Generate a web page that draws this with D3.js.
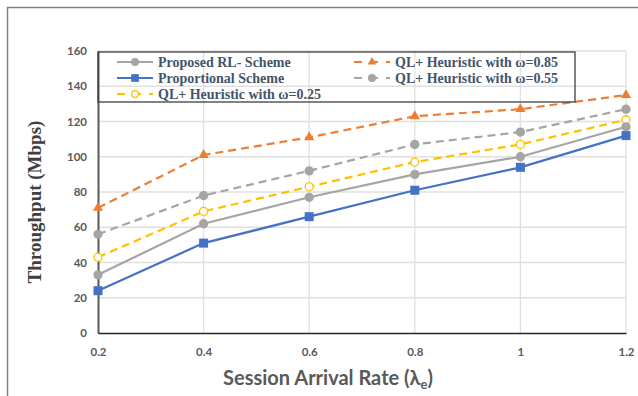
<!DOCTYPE html>
<html><head><meta charset="utf-8">
<script src="https://cdn.jsdelivr.net/npm/d3@7"></script>
<style>body{margin:0;background:#fff}svg{display:block}</style>
</head><body>
<script>
const xValues = [0.2, 0.4, 0.6, 0.8, 1.0, 1.2];
const proposedRL = [33, 62, 77, 90, 100, 117];
const proportional = [24, 51, 66, 81, 94, 112];
const ql025 = [43, 69, 83, 97, 107, 121];
const ql085 = [71, 101, 111, 123, 127, 135];
const ql055 = [56, 78, 92, 107, 114, 127];
const yTicks = [0, 20, 40, 60, 80, 100, 120, 140, 160];
const xTickLabels = ["0.2", "0.4", "0.6", "0.8", "1", "1.2"];

const series = [
  {name: "Proposed RL- Scheme", values: proposedRL, color: "#a5a5a5", dash: null, marker: "circle", fill: "#a5a5a5"},
  {name: "Proportional Scheme", values: proportional, color: "#4472c4", dash: null, marker: "square", fill: "#4472c4"},
  {name: "QL+ Heuristic with ω=0.25", values: ql025, color: "#ffc000", dash: "8,5", marker: "circle", fill: "#fff"},
  {name: "QL+ Heuristic with ω=0.85", values: ql085, color: "#ed7d31", dash: "8,5", marker: "triangle", fill: "#ed7d31"},
  {name: "QL+ Heuristic with ω=0.55", values: ql055, color: "#a5a5a5", dash: "8,5", marker: "circle", fill: "#a5a5a5"}
];

const W = 638, H = 396;
const svg = d3.select("body").append("svg").attr("width", W).attr("height", H);

// outer frame
svg.append("rect").attr("x", 7.5).attr("y", 7.5).attr("width", 640).attr("height", 400)
  .attr("fill", "none").attr("stroke", "#808080").attr("stroke-width", 1.5);

const x = d3.scaleLinear().domain([0.2, 1.2]).range([98, 626]);
const y = d3.scaleLinear().domain([0, 160]).range([333, 51]);

// gridlines
svg.append("g").selectAll("line").data(yTicks.slice(1)).join("line")
  .attr("x1", 98).attr("x2", 626).attr("y1", d => y(d)).attr("y2", d => y(d))
  .attr("stroke", "#e0e0e0").attr("stroke-width", 1.3);
svg.append("g").selectAll("line").data(xValues.slice(1)).join("line")
  .attr("x1", d => x(d)).attr("x2", d => x(d)).attr("y1", 51).attr("y2", 333)
  .attr("stroke", "#e0e0e0").attr("stroke-width", 1.3);

// axes
const yAxis = svg.append("g").attr("transform", "translate(98,0)")
  .call(d3.axisLeft(y).tickValues(yTicks).tickSize(0).tickPadding(11));
yAxis.select(".domain").attr("stroke", "#595959").attr("stroke-width", 2);
yAxis.selectAll("text").attr("font-family", "Lato, 'Open Sans', sans-serif").attr("font-weight", "bold")
  .attr("font-size", 11.5).attr("fill", "#595959");

const xAxis = svg.append("g").attr("transform", "translate(0,333)")
  .call(d3.axisBottom(x).tickValues(xValues).tickFormat((d, i) => xTickLabels[i]).tickSize(0).tickPadding(15));
xAxis.select(".domain").attr("stroke", "#262626").attr("stroke-width", 1.5);
xAxis.selectAll("text").attr("font-family", "Lato, 'Open Sans', sans-serif").attr("font-weight", "bold")
  .attr("font-size", 11.5).attr("fill", "#595959");

// lines
const line = d3.line().x((d, i) => x(xValues[i])).y(d => y(d));
const order = [3, 4, 2, 0, 1];
order.forEach(k => {
  const s = series[k];
  svg.append("path").attr("d", line(s.values)).attr("fill", "none")
    .attr("stroke", s.color).attr("stroke-width", 2.2)
    .attr("stroke-dasharray", s.dash);
});

function drawMarker(g, s, cx, cy, scale) {
  scale = scale || 1;
  if (s.marker === "circle") {
    g.append("circle").attr("cx", cx).attr("cy", cy).attr("r", 4 * scale)
      .attr("fill", s.fill).attr("stroke", s.color).attr("stroke-width", 1.3);
  } else if (s.marker === "square") {
    g.append("rect").attr("x", cx - 4.5 * scale).attr("y", cy - 4.5 * scale)
      .attr("width", 9 * scale).attr("height", 9 * scale).attr("fill", s.fill);
  } else {
    g.append("path").attr("d", d3.symbol(d3.symbolTriangle, 45 * scale * scale)())
      .attr("transform", `translate(${cx},${cy})`).attr("fill", s.fill);
  }
}
order.forEach(k => {
  const s = series[k];
  const g = svg.append("g");
  s.values.forEach((v, i) => drawMarker(g, s, x(xValues[i]), y(v)));
});

// legend
svg.append("rect").attr("x", 98).attr("y", 52).attr("width", 477).attr("height", 50)
  .attr("fill", "none").attr("stroke", "#404040").attr("stroke-width", 1.3);
const legPos = [
  {x0: 117, y0: 62}, {x0: 117, y0: 78}, {x0: 117, y0: 94},
  {x0: 354, y0: 62}, {x0: 354, y0: 78}
];
series.forEach((s, i) => {
  const p = legPos[i];
  const g = svg.append("g");
  g.append("line").attr("x1", p.x0).attr("x2", p.x0 + 36).attr("y1", p.y0).attr("y2", p.y0)
    .attr("stroke", s.color).attr("stroke-width", 2.2).attr("stroke-dasharray", s.dash ? "8,8" : null);
  drawMarker(g, s, p.x0 + 18, p.y0, 0.85);
  g.append("text").attr("x", p.x0 + 41).attr("y", p.y0 + 4.5).text(s.name)
    .attr("font-family", "'Liberation Serif', 'Times New Roman', serif").attr("font-weight", "bold")
    .attr("font-size", 14).attr("fill", "#44546a");
});

// axis titles
svg.append("text").attr("transform", "translate(41,202) rotate(-90)").attr("text-anchor", "middle")
  .attr("font-family", "'Liberation Serif', 'Times New Roman', serif").attr("font-weight", "bold")
  .attr("font-size", 19).attr("fill", "#404040").text("Throughput (Mbps)");

const xt = svg.append("text").attr("x", 328).attr("y", 385).attr("text-anchor", "middle")
  .attr("font-family", "Lato, 'Open Sans', sans-serif").attr("font-weight", "bold")
  .attr("font-size", 20).attr("fill", "#595959");
xt.append("tspan").text("Session Arrival Rate (λ");
xt.append("tspan").attr("font-size", 13).attr("dy", 4).text("e");
xt.append("tspan").attr("dy", -4).text(")");
</script>
</body></html>
